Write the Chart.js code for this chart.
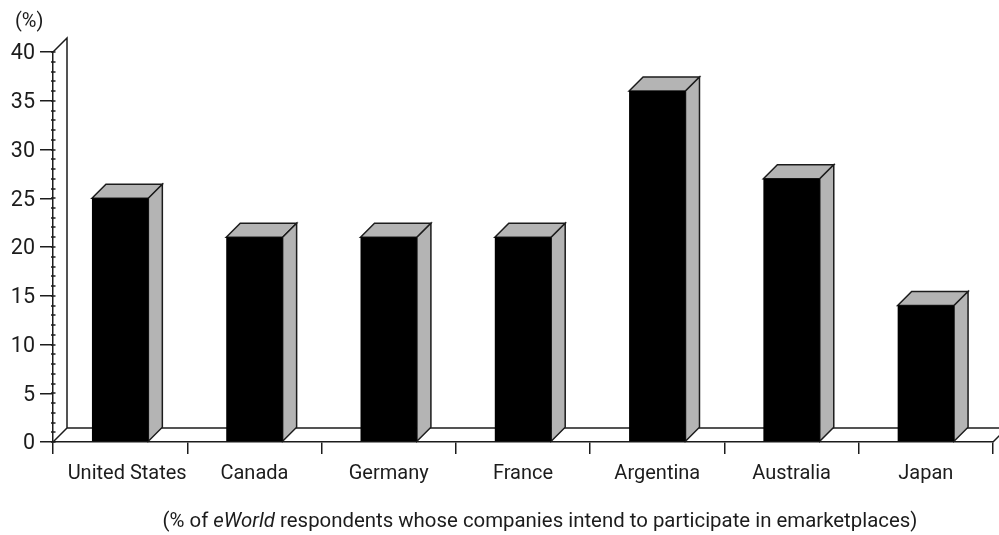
<!DOCTYPE html>
<html>
<head>
<meta charset="utf-8">
<script src="https://cdn.jsdelivr.net/npm/chart.js@4"></script>
<style>
  html, body { margin: 0; background: #fff; }
  canvas { display: block; }
</style>
</head>
<body>
<canvas id="myChart" width="999" height="535"></canvas>
<script>
const categories = ['United States', 'Canada', 'Germany', 'France', 'Argentina', 'Australia', 'Japan'];
const respondents = [25, 21, 21, 21, 36, 27, 14];
const yMax = 40;
const yStep = 1;
const yLabelEvery = 5;

const unitLabel = '(%)';
const captionParts = [
  { text: '(% of ', italic: false },
  { text: 'eWorld', italic: true },
  { text: ' respondents whose companies intend to participate in emarketplaces)', italic: false }
];

const family = 'Roboto, "Liberation Sans", sans-serif';
const ink = '#1c1c1c';
const sideGrey = '#b4b4b4';
const depth = 14;

function poly(c, pts, fill) {
  c.beginPath();
  pts.forEach((p, i) => i ? c.lineTo(p[0], p[1]) : c.moveTo(p[0], p[1]));
  c.closePath();
  if (fill) { c.fillStyle = fill; c.fill(); }
  c.stroke();
}

// back wall, floor and the fake 3d faces of the bars
const box3d = {
  id: 'box3d',
  beforeDraw(chart) {
    // the first label sits a bit right of its bar
    const items = chart.scales.x.getLabelItems(chart.chartArea);
    items[0].options.translation[0] += 7;
  },
  beforeDatasetsDraw(chart) {
    const c = chart.ctx;
    const a = chart.chartArea;
    const y = chart.scales.y;
    c.save();
    c.strokeStyle = ink;
    c.lineWidth = 1.5;

    c.beginPath();
    c.moveTo(a.left, a.top);
    c.lineTo(a.left + depth, a.top - depth);
    c.lineTo(a.left + depth, a.bottom - depth);
    c.lineTo(a.left, a.bottom);
    c.moveTo(a.left + depth, a.bottom - depth);
    c.lineTo(a.right + depth, a.bottom - depth);
    c.moveTo(a.right, a.bottom);
    c.lineTo(a.right + depth, a.bottom - depth);
    c.stroke();

    // small crossing marks on the value axis
    y.ticks.forEach(t => {
      const py = Math.round(y.getPixelForValue(t.value));
      c.beginPath();
      c.moveTo(a.left - 2, py);
      c.lineTo(a.left + 2.5, py);
      c.stroke();
    });

    chart.getDatasetMeta(0).data.forEach(bar => {
      const l = bar.x - bar.width / 2;
      const r = bar.x + bar.width / 2;
      poly(c, [[l, bar.y], [l + depth, bar.y - depth], [r + depth, bar.y - depth], [r, bar.y]], sideGrey);
      poly(c, [[r, bar.y], [r + depth, bar.y - depth], [r + depth, bar.base - depth], [r, bar.base]], sideGrey);
    });
    c.restore();
  },
  afterDraw(chart) {
    const c = chart.ctx;
    c.save();
    c.textBaseline = 'alphabetic';
    c.fillStyle = ink;
    c.font = '20px ' + family;
    c.fillText(unitLabel, 15, 27);

    const fontFor = p => (p.italic ? 'italic ' : '') + '20.4px ' + family;
    let total = 0;
    captionParts.forEach(p => { c.font = fontFor(p); total += c.measureText(p.text).width; });
    let x = 540 - total / 2;
    captionParts.forEach(p => {
      c.font = fontFor(p);
      c.fillText(p.text, x, 527);
      x += c.measureText(p.text).width;
    });
    c.restore();
  }
};

const ctx = document.getElementById('myChart');

new Chart(ctx, {
  type: 'bar',
  data: {
    labels: categories,
    datasets: [{
      data: respondents,
      backgroundColor: '#000',
      categoryPercentage: 1,
      barPercentage: 0.42
    }]
  },
  options: {
    responsive: false,
    animation: false,
    layout: { padding: { top: 52, right: 6 } },
    plugins: {
      legend: { display: false },
      tooltip: { enabled: false }
    },
    scales: {
      x: {
        grid: { drawOnChartArea: false, color: ink, tickLength: 12, lineWidth: 1.5 },
        border: { color: ink, width: 1.5 },
        ticks: {
          color: ink,
          padding: 8,
          maxRotation: 0,
          autoSkip: false,
          font: { family: family, size: 20 }
        },
        afterFit(scale) { scale.height = 93; }
      },
      y: {
        min: 0,
        max: yMax,
        grid: {
          drawOnChartArea: false,
          tickLength: 13,
          lineWidth: 1.5,
          tickColor: c => (c.tick.value % yLabelEvery === 0 ? ink : 'transparent')
        },
        border: { color: ink, width: 1.5 },
        ticks: {
          stepSize: yStep,
          autoSkip: false,
          color: ink,
          padding: 5,
          labelOffset: 2,
          font: { family: family, size: 21.5 },
          callback: v => (v % yLabelEvery === 0 ? String(v) : '')
        },
        afterFit(scale) { scale.width = 53; }
      }
    }
  },
  plugins: [box3d]
});
</script>
</body>
</html>
